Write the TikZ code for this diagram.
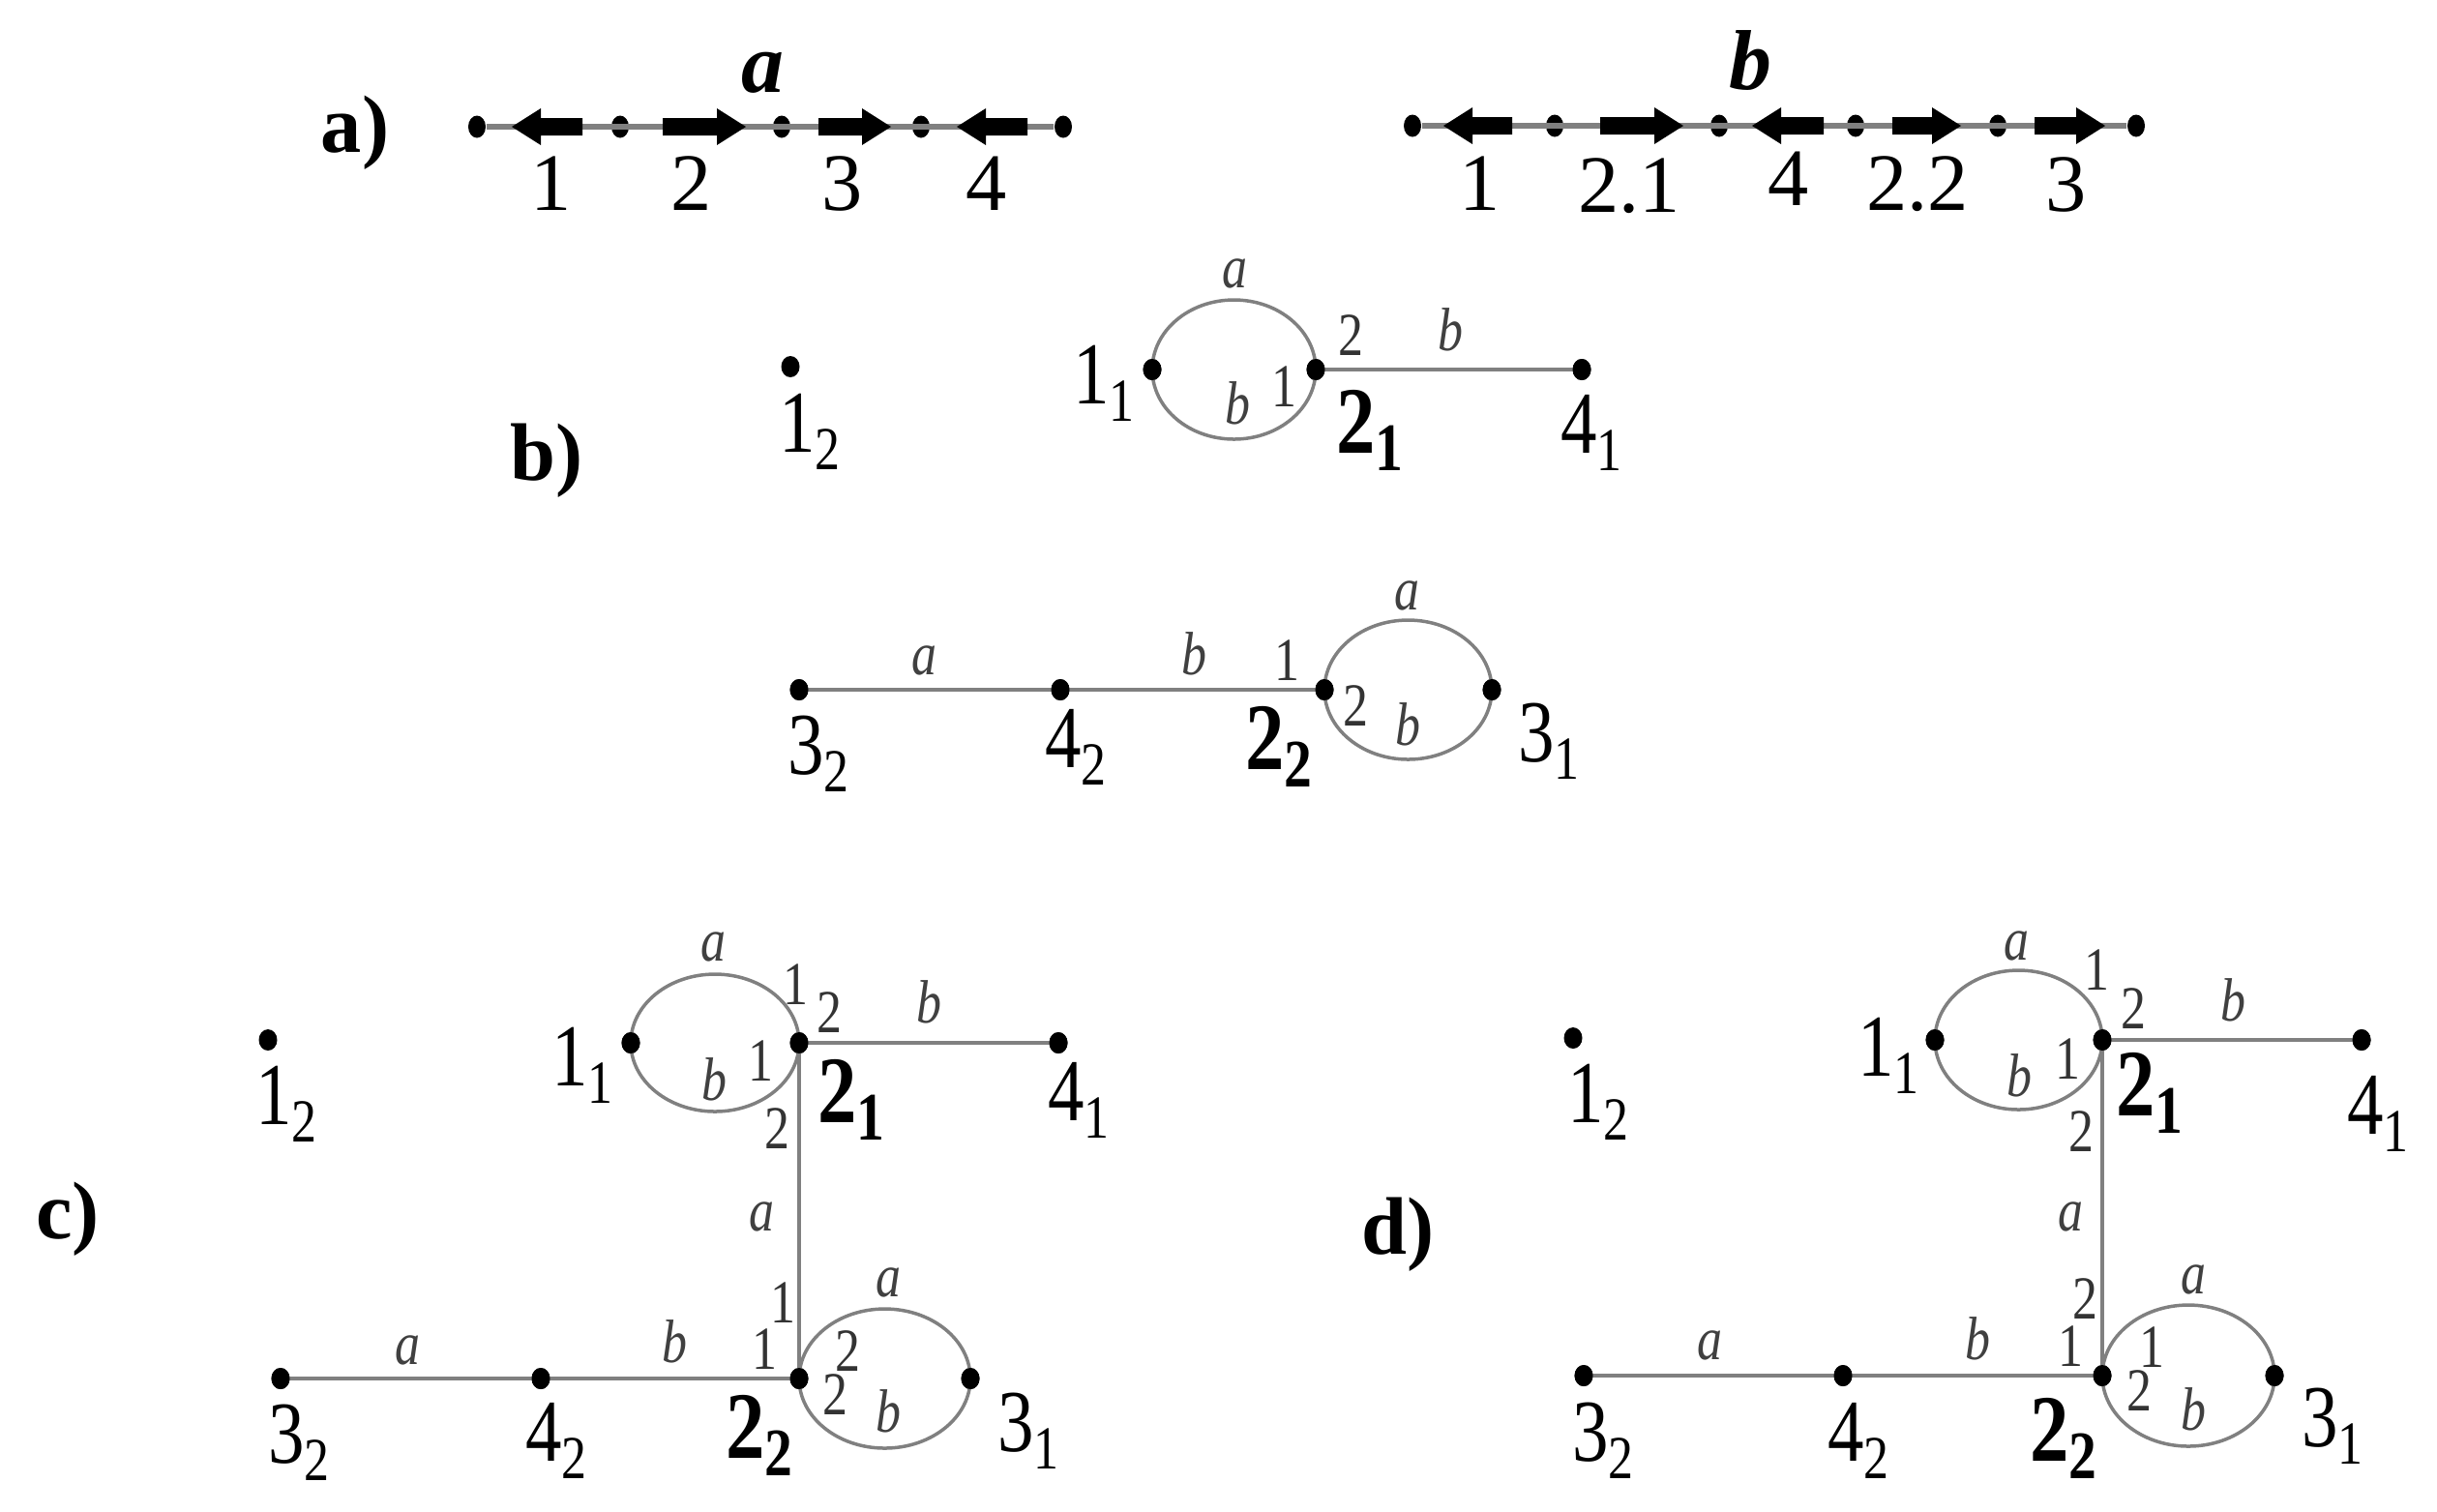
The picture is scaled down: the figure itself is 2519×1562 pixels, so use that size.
\documentclass[tikz,border=0pt]{standalone}
\usepackage{fontspec}
\setmainfont{Liberation Serif}
\newfontfamily\tnrn[FakeStretch=0.82]{Liberation Serif}
\usetikzlibrary{shapes.geometric}
\newcommand\vl[2]{{\tnrn\fontsize{26}{28}\selectfont #1}\raisebox{-1.8mm}{\tnrn\fontsize{18}{20}\selectfont #2}}
\newcommand\vb[2]{{\tnrn\bfseries\fontsize{28}{30}\selectfont #1}\raisebox{-1.8mm}{\tnrn\bfseries\fontsize{20}{22}\selectfont #2}}
\newcommand\fatR[3]{\fill (#1,#3-9) -- ({#2-30},#3-9) -- ({#2-30},#3-19) -- (#2,#3) -- ({#2-30},#3+19) -- ({#2-30},#3+9) -- (#1,#3+9) -- cycle;}
\newcommand\fatL[3]{\fill (#2,#3-9) -- ({#1+30},#3-9) -- ({#1+30},#3-19) -- (#1,#3) -- ({#1+30},#3+19) -- ({#1+30},#3+9) -- (#2,#3+9) -- cycle;}
\tikzset{
  lbl/.style={inner sep=0pt, anchor=base},
  vlab/.style={lbl, text=black},
  sm/.style={lbl, text=black!80, font=\tnrn\fontsize{18}{20}\selectfont},
  el/.style={lbl, text=black!75, font=\tnrn\itshape\fontsize{18}{20}\selectfont},
  panel/.style={inner sep=0pt, font=\bfseries\fontsize{24}{26}\selectfont},
  toplab/.style={lbl, font=\fontsize{24}{26}\selectfont},
  topname/.style={lbl, font=\bfseries\itshape\fontsize{25}{27}\selectfont},
  dot/.style={ellipse, fill=black, inner sep=0pt, minimum width=1.9mm, minimum height=2.2mm},
  tdot/.style={ellipse, fill=black, inner sep=0pt, minimum width=1.8mm, minimum height=2.3mm},
  edge/.style={draw=black!50, line width=0.42mm},
  loopline/.style={draw=black!50, line width=0.35mm},
  topline/.style={draw=black!50, line width=0.6mm}
}
\begin{document}
\begin{tikzpicture}[x=0.1mm,y=-0.1mm]
\useasboundingbox (0,0) rectangle (2519,1562);
% ---------------- panel a) ----------------
\node[panel] (pa) at (367,137) {a)};
\foreach \n/\x in {1/493,2/641,3/808,4/952,5/1099}{\node[tdot] (ta\n) at (\x,131) {};}
\foreach \n/\x in {1/1460,2/1607,3/1777,4/1918,5/2065,6/2208}{\node[tdot] (tb\n) at (\x,130) {};}
\draw[topline] (ta1) -- (ta5);
\draw[topline] (tb1) -- (tb6);
\fatL{529}{602}{131}
\fatR{685}{771}{131}
\fatR{846}{921}{131}
\fatL{989}{1062}{131}
\fatL{1492}{1563}{130}
\fatR{1654}{1740}{130}
\fatL{1811}{1885}{130}
\fatR{1956}{2027}{130}
\fatR{2103}{2176}{130}
\node[topname] (na) at (788,95) {a};
\node[topname] (nb) at (1809,92) {b};
\node[toplab] (la1) at (570,217) {1};
\node[toplab] (la2) at (715,217) {2};
\node[toplab] (la3) at (871,217) {3};
\node[toplab] (la4) at (1020,217) {4};
\node[toplab] (lb1) at (1530,217) {1};
\node[toplab] (lb2) at (1684,219) {2.1};
\node[toplab] (lb3) at (1849,212) {4};
\node[toplab] (lb4) at (1982,217) {2.2};
\node[toplab] (lb5) at (2136,218) {3};
% ---------------- panel b) ----------------
\node[panel] (pb) at (565,476) {b)};
% upper graph
\node[dot] (b12) at (817,379) {};
\node[dot] (b11) at (1191,382) {};
\node[dot] (b21) at (1360,382) {};
\node[dot] (b41) at (1635,382) {};
\draw[loopline] (b11.center) arc[start angle=180,end angle=0,x radius=8.45mm,y radius=7.2mm];
\draw[loopline] (b11.center) arc[start angle=180,end angle=360,x radius=8.45mm,y radius=7.2mm];
\draw[edge] (b21.center) -- (b41.center);
\node[dot] at (b11) {};
\node[dot] at (b21) {};
\node[dot] at (b41) {};
\node[vlab] (lb12) at (837,467) {\vl{1}{2}};
\node[vlab] (lb11) at (1141,417) {\vl{1}{1}};
\node[vlab] (lb21) at (1416,468) {\vb{2}{1}};
\node[vlab] (lb41) at (1645,468) {\vl{4}{1}};
\node[el] at (1276,297) {a};
\node[el] at (1279,438) {b};
\node[sm] at (1327,420) {1};
\node[sm] at (1396,367) {2};
\node[el] at (1499,362) {b};
% lower graph
\node[dot] (b32) at (826,713) {};
\node[dot] (b42) at (1096,713) {};
\node[dot] (b22) at (1369,713) {};
\node[dot] (b31) at (1542,713) {};
\draw[edge] (b32.center) -- (b42.center) -- (b22.center);
\draw[loopline] (b22.center) arc[start angle=180,end angle=0,x radius=8.65mm,y radius=7.2mm];
\draw[loopline] (b22.center) arc[start angle=180,end angle=360,x radius=8.65mm,y radius=7.2mm];
\node[dot] at (b32) {};
\node[dot] at (b42) {};
\node[dot] at (b22) {};
\node[dot] at (b31) {};
\node[vlab] at (846,800) {\vl{3}{2}};
\node[vlab] at (1112,793) {\vl{4}{2}};
\node[vlab] at (1322,795) {\vb{2}{2}};
\node[vlab] at (1601,787) {\vl{3}{1}};
\node[el] at (1454,630) {a};
\node[el] at (1455,770) {b};
\node[sm] at (1401,750) {2};
\node[sm] at (1330,703) {1};
\node[el] at (955,697) {a};
\node[el] at (1234,697) {b};
% ---------------- panel c) ----------------
\node[panel] (pc) at (70,1260) {c)};
\node[dot] (c12) at (277,1075) {};
\node[dot] (c11) at (652,1078) {};
\node[dot] (c21) at (826,1078) {};
\node[dot] (c41) at (1094,1078) {};
\node[dot] (c32) at (290,1425) {};
\node[dot] (c42) at (559,1425) {};
\node[dot] (c22) at (826,1425) {};
\node[dot] (c31) at (1003,1425) {};
\draw[loopline] (c11.center) arc[start angle=180,end angle=0,x radius=8.7mm,y radius=7.1mm];
\draw[loopline] (c11.center) arc[start angle=180,end angle=360,x radius=8.7mm,y radius=7.1mm];
\draw[edge] (c21.center) -- (c41.center);
\draw[loopline] (c21.center) -- (c22.center);
\draw[edge] (c32.center) -- (c42.center) -- (c22.center);
\draw[loopline] (c22.center) arc[start angle=180,end angle=0,x radius=8.85mm,y radius=7.2mm];
\draw[loopline] (c22.center) arc[start angle=180,end angle=360,x radius=8.85mm,y radius=7.2mm];
\foreach \v in {c11,c21,c41,c32,c42,c22,c31}{\node[dot] at (\v) {};}
\node[vlab] at (296,1162) {\vl{1}{2}};
\node[vlab] at (602,1122) {\vl{1}{1}};
\node[vlab] at (880,1160) {\vb{2}{1}};
\node[vlab] at (1115,1158) {\vl{4}{1}};
\node[el] at (737,993) {a};
\node[el] at (738,1137) {b};
\node[sm] at (786,1117) {1};
\node[sm] at (822,1038) {1};
\node[sm] at (857,1067) {2};
\node[el] at (960,1057) {b};
\node[sm] at (803,1187) {2};
\node[el] at (787,1272) {a};
\node[vlab] at (309,1512) {\vl{3}{2}};
\node[vlab] at (575,1510) {\vl{4}{2}};
\node[vlab] at (785,1507) {\vb{2}{2}};
\node[vlab] at (1063,1500) {\vl{3}{1}};
\node[el] at (918,1340) {a};
\node[el] at (918,1480) {b};
\node[sm] at (876,1417) {2};
\node[sm] at (863,1462) {2};
\node[sm] at (809,1367) {1};
\node[sm] at (790,1415) {1};
\node[el] at (697,1408) {b};
\node[el] at (421,1410) {a};
% ---------------- panel d) ----------------
\node[panel] (pd) at (1445,1276) {d)};
\node[dot] (d12) at (1626,1073) {};
\node[dot] (d11) at (2000,1075) {};
\node[dot] (d21) at (2173,1075) {};
\node[dot] (d41) at (2441,1075) {};
\node[dot] (d32) at (1637,1422) {};
\node[dot] (d42) at (1905,1422) {};
\node[dot] (d22) at (2173,1422) {};
\node[dot] (d31) at (2351,1422) {};
\draw[loopline] (d11.center) arc[start angle=180,end angle=0,x radius=8.65mm,y radius=7.2mm];
\draw[loopline] (d11.center) arc[start angle=180,end angle=360,x radius=8.65mm,y radius=7.2mm];
\draw[edge] (d21.center) -- (d41.center);
\draw[loopline] (d21.center) -- (d22.center);
\draw[edge] (d32.center) -- (d42.center) -- (d22.center);
\draw[loopline] (d22.center) arc[start angle=180,end angle=0,x radius=8.9mm,y radius=7.3mm];
\draw[loopline] (d22.center) arc[start angle=180,end angle=360,x radius=8.9mm,y radius=7.3mm];
\foreach \v in {d11,d21,d41,d32,d42,d22,d31}{\node[dot] at (\v) {};}
\node[vlab] at (1652,1160) {\vl{1}{2}};
\node[vlab] at (1952,1112) {\vl{1}{1}};
\node[vlab] at (2222,1153) {\vb{2}{1}};
\node[vlab] at (2458,1172) {\vl{4}{1}};
\node[el] at (2084,992) {a};
\node[el] at (2087,1133) {b};
\node[sm] at (2137,1115) {1};
\node[sm] at (2167,1023) {1};
\node[sm] at (2205,1063) {2};
\node[el] at (2308,1055) {b};
\node[sm] at (2151,1190) {2};
\node[el] at (2140,1272) {a};
\node[vlab] at (1657,1510) {\vl{3}{2}};
\node[vlab] at (1921,1510) {\vl{4}{2}};
\node[vlab] at (2133,1510) {\vb{2}{2}};
\node[vlab] at (2411,1495) {\vl{3}{1}};
\node[el] at (2267,1337) {a};
\node[el] at (2267,1478) {b};
\node[sm] at (2224,1413) {1};
\node[sm] at (2211,1458) {2};
\node[sm] at (2155,1363) {2};
\node[sm] at (2140,1412) {1};
\node[el] at (2044,1405) {b};
\node[el] at (1767,1405) {a};
\end{tikzpicture}
\end{document}
